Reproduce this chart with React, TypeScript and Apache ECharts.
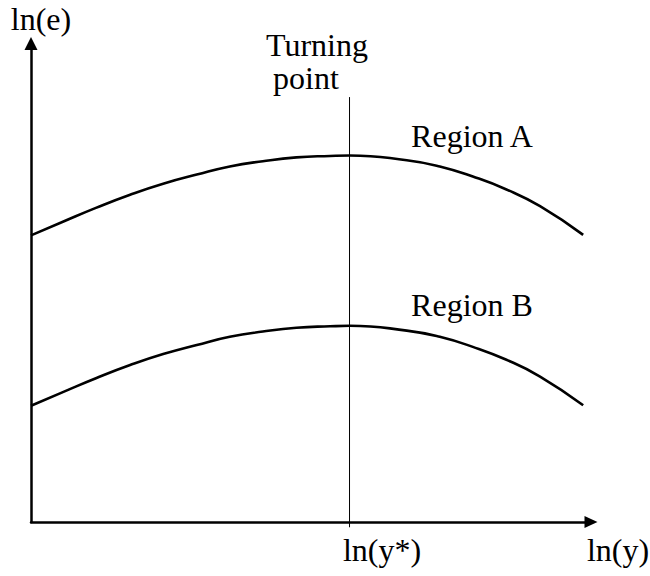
import React, { useEffect, useRef } from "react";
import * as echarts from "echarts";

// ln(y) positions (arbitrary units, 0..100 along the horizontal axis)
const xValues = [0, 5.8, 11.7, 17.7, 23.6, 29.6, 35.5, 41.4, 47.4, 53.4, 56.9, 67.1, 73.0, 78.9, 84.9, 90.9, 98.6];
// ln(e) values for each region (arbitrary units, 0..100 along the vertical axis)
const regionA = [59.9, 62.8, 65.7, 68.4, 70.7, 72.6, 74.3, 75.4, 76.2, 76.5, 76.6, 75.6, 74.3, 72.2, 69.5, 66.0, 60.0];
const regionB = [24.3, 27.2, 30.1, 32.8, 35.1, 37.0, 38.7, 39.8, 40.6, 40.9, 41.0, 40.0, 38.7, 36.6, 33.9, 30.4, 24.4];
// turning point ln(y*)
const turningX = 56.88;
const turningLine = [-1.1, 88.8];

const FONT = "'Liberation Serif', 'Times New Roman', serif";

export default function App() {
  const ref = useRef<HTMLDivElement>(null);
  useEffect(() => {
    document.body.style.margin = "0";
    if (!ref.current) return;
    const chart = echarts.init(ref.current, null, { renderer: "svg" });
    const txt = (text: string, x: number, y: number) => ({
      type: "text",
      x,
      y,
      style: {
        text,
        fill: "#000",
        font: `32px ${FONT}`,
        align: "center",
        verticalAlign: "middle",
      },
    });
    chart.setOption({
      animation: false,
      backgroundColor: "#fff",
      grid: { left: 31, right: 59, top: 43.5, bottom: 54 },
      xAxis: {
        type: "value",
        min: 0,
        max: 100,
        axisLine: {
          show: true,
          symbol: ["none", "triangle"],
          symbolSize: [12, 13],
          lineStyle: { color: "#000", width: 2.5 },
        },
        axisTick: { show: false },
        axisLabel: { show: false },
        splitLine: { show: false },
      },
      yAxis: {
        type: "value",
        min: 0,
        max: 100,
        axisLine: {
          show: true,
          symbol: ["none", "triangle"],
          symbolSize: [13, 13],
          lineStyle: { color: "#000", width: 2.5 },
        },
        axisTick: { show: false },
        axisLabel: { show: false },
        splitLine: { show: false },
      },
      series: [
        {
          name: "Region A",
          type: "line",
          data: xValues.map((x, i) => [x, regionA[i]]),
          smooth: 0.5,
          showSymbol: false,
          symbol: "none",
          lineStyle: { color: "#000", width: 2.6 },
        },
        {
          name: "Region B",
          type: "line",
          data: xValues.map((x, i) => [x, regionB[i]]),
          smooth: 0.5,
          showSymbol: false,
          symbol: "none",
          lineStyle: { color: "#000", width: 2.6 },
        },
        {
          name: "Turning point",
          type: "line",
          data: turningLine.map((y) => [turningX, y]),
          clip: false,
          showSymbol: false,
          symbol: "none",
          lineStyle: { color: "#000", width: 1 },
        },
      ],
      graphic: [
        txt("ln(e)", 41, 19),
        txt("Turning", 317, 45),
        txt("point", 306, 77.5),
        txt("Region A", 472, 136),
        txt("Region B", 472, 305),
        txt("ln(y*)", 382, 550),
        txt("ln(y)", 618, 550),
      ],
    });
    return () => chart.dispose();
  }, []);
  return <div ref={ref} style={{ width: 650, height: 576 }} />;
}
